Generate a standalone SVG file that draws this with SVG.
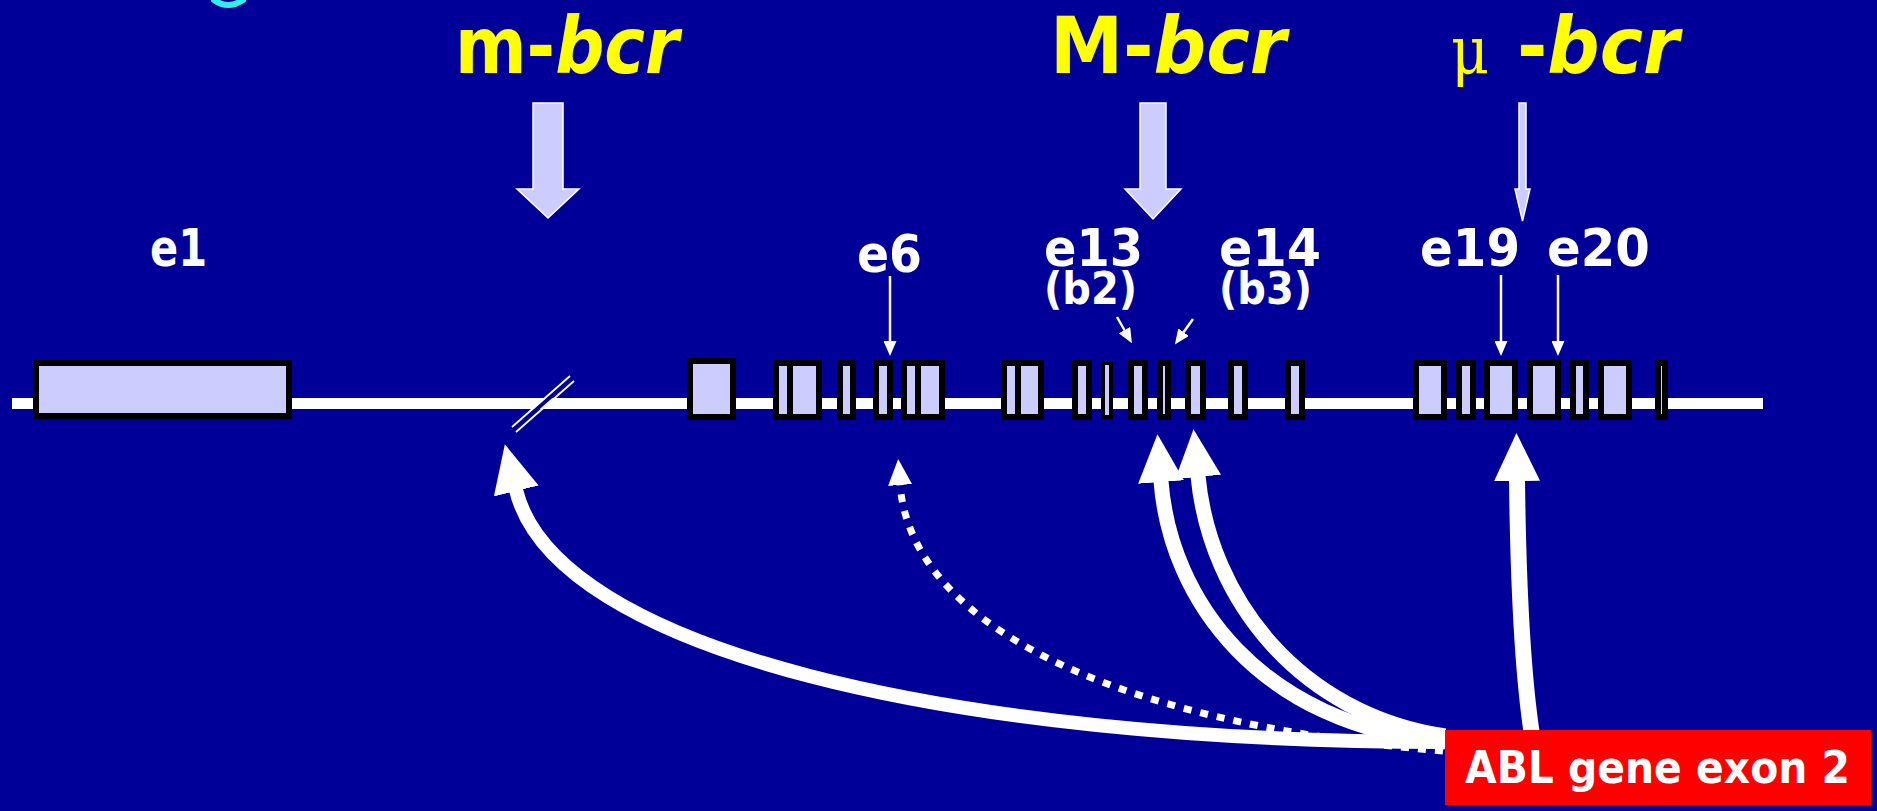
<svg xmlns="http://www.w3.org/2000/svg" width="1877" height="811" viewBox="0 0 1877 811">
  <style>
    .exon { fill: #CCCCFF; stroke: #000000; stroke-width: 6; }
    .exon-thin { fill: #CCCCFF; stroke: #000000; stroke-width: 4; }
    .region { font-family: "DejaVu Sans", sans-serif; font-weight: bold; fill: #FFFF00; }
    .region-it { font-style: italic; }
    .mu { font-family: "DejaVu Serif", "Liberation Serif", serif; font-weight: normal; fill: #FFFF00; }
    .exlabel { font-family: "DejaVu Sans", sans-serif; font-weight: bold; fill: #FFFFFF; }
    .block { fill: #CCCCFF; stroke: #FFFFFF; stroke-width: 1.5; stroke-linejoin: miter; }
    .fusion { fill: none; stroke: #FFFFFF; stroke-linecap: butt; }
    .pointer { fill: none; stroke: #FFFFFF; stroke-width: 2.5; }
  </style>
  <defs>
    <marker id="headBig" markerUnits="userSpaceOnUse" viewBox="0 0 48 46" markerWidth="48" markerHeight="46" refX="1" refY="23" orient="auto">
      <path d="M0,0 L48,23 L0,46 Z" fill="#FFFFFF"/>
    </marker>
    <marker id="headDot" markerUnits="userSpaceOnUse" viewBox="0 0 26 24" markerWidth="26" markerHeight="24" refX="1" refY="12" orient="auto">
      <path d="M0,0 L26,12 L0,24 Z" fill="#FFFFFF"/>
    </marker>
    <marker id="headThin" markerUnits="userSpaceOnUse" viewBox="0 0 15 13" markerWidth="15" markerHeight="13" refX="1" refY="6.5" orient="auto">
      <path d="M0,0 L15,6.5 L0,13 Z" fill="#FFFFFF"/>
    </marker>
  </defs>

  <!-- background -->
  <rect x="0" y="0" width="1877" height="811" fill="#000099"/>

  <!-- cut-off heading stroke at the top edge -->
  <path d="M214,0 Q228,10 243,0" fill="none" stroke="#33EEEE" stroke-width="6" stroke-linecap="round"/>

  <!-- breakpoint cluster region titles with block arrows -->
  <g id="region-m-bcr">
    <text class="region" x="455" y="73" font-size="78" textLength="224" lengthAdjust="spacingAndGlyphs">m-<tspan class="region-it">bcr</tspan></text>
    <polygon class="block" points="533,103 563,103 563,189 579,189 548,218 517,189 533,189"/>
  </g>
  <g id="region-M-bcr">
    <text class="region" x="1050" y="73" font-size="78" textLength="236" lengthAdjust="spacingAndGlyphs">M-<tspan class="region-it">bcr</tspan></text>
    <polygon class="block" points="1140,103 1166,103 1166,189 1181,189 1153,219 1125,189 1140,189"/>
  </g>
  <g id="region-mu-bcr">
    <text class="mu" x="1451" y="73" font-size="66" textLength="38" lengthAdjust="spacingAndGlyphs">μ</text>
    <text class="region" x="1517" y="73" font-size="78" textLength="162" lengthAdjust="spacingAndGlyphs">-<tspan class="region-it">bcr</tspan></text>
    <polygon class="block" points="1519,103 1526,103 1526,189 1530,189 1522.5,221 1515,189 1519,189"/>
  </g>

  <!-- BCR gene backbone -->
  <g id="backbone">
    <rect x="12" y="398" width="1751" height="11" fill="#FFFFFF"/>
    <!-- break mark -->
    <line x1="514" y1="429" x2="572" y2="378" stroke="#000099" stroke-width="4"/>
    <line x1="512" y1="427" x2="570" y2="376" stroke="#FFFFFF" stroke-width="1.8"/>
    <line x1="516" y1="432" x2="574" y2="381" stroke="#FFFFFF" stroke-width="1.8"/>
  </g>

  <!-- exons -->
  <g id="exon-e1"><rect class="exon" x="36" y="363" width="253" height="53"/>
    <text class="exlabel" x="150" y="266" font-size="52" textLength="57" lengthAdjust="spacingAndGlyphs">e1</text></g>
  <g id="exon-2"><rect class="exon" x="690" y="361" width="43" height="56"/></g>
  <g id="exon-3"><rect class="exon" x="776" y="363" width="14" height="54"/><rect class="exon" x="790" y="363" width="29" height="54"/></g>
  <g id="exon-4"><rect class="exon" x="840" y="363" width="13" height="54"/></g>
  <g id="exon-e6"><rect class="exon" x="876" y="363" width="14" height="54"/>
    <text class="exlabel" x="857" y="272" font-size="52" textLength="65" lengthAdjust="spacingAndGlyphs">e6</text></g>
  <g id="exon-7"><rect class="exon" x="904" y="363" width="14" height="54"/><rect class="exon" x="918" y="363" width="24" height="54"/></g>
  <g id="exon-8"><rect class="exon" x="1004" y="363" width="14" height="54"/><rect class="exon" x="1018" y="363" width="23" height="54"/></g>
  <g id="exon-9"><rect class="exon" x="1075" y="363" width="14" height="54"/></g>
  <g id="exon-10"><rect class="exon-thin" x="1103" y="363" width="8" height="54"/></g>
  <g id="exon-e13"><rect class="exon" x="1131" y="363" width="14" height="54"/>
    <text class="exlabel" x="1044" y="266" font-size="52" textLength="99" lengthAdjust="spacingAndGlyphs">e13</text>
    <text class="exlabel" x="1044" y="304" font-size="44" textLength="93" lengthAdjust="spacingAndGlyphs">(b2)</text></g>
  <g id="exon-12"><rect class="exon" x="1160" y="363" width="8" height="54"/></g>
  <g id="exon-e14"><rect class="exon" x="1188" y="363" width="15" height="54"/>
    <text class="exlabel" x="1219" y="266" font-size="52" textLength="102" lengthAdjust="spacingAndGlyphs">e14</text>
    <text class="exlabel" x="1219" y="304" font-size="44" textLength="93" lengthAdjust="spacingAndGlyphs">(b3)</text></g>
  <g id="exon-15"><rect class="exon" x="1231" y="363" width="14" height="54"/></g>
  <g id="exon-16"><rect class="exon" x="1288" y="363" width="14" height="54"/></g>
  <g id="exon-17"><rect class="exon" x="1416" y="363" width="28" height="54"/></g>
  <g id="exon-18"><rect class="exon" x="1459" y="363" width="14" height="54"/></g>
  <g id="exon-e19"><rect class="exon" x="1487" y="363" width="28" height="54"/>
    <text class="exlabel" x="1420" y="266" font-size="52" textLength="100" lengthAdjust="spacingAndGlyphs">e19</text></g>
  <g id="exon-e20"><rect class="exon" x="1530" y="363" width="28" height="54"/>
    <text class="exlabel" x="1547" y="266" font-size="52" textLength="103" lengthAdjust="spacingAndGlyphs">e20</text></g>
  <g id="exon-21"><rect class="exon" x="1573" y="363" width="13" height="54"/></g>
  <g id="exon-22"><rect class="exon" x="1601" y="363" width="28" height="54"/></g>
  <g id="exon-23"><rect class="exon" x="1658" y="363" width="7" height="54"/></g>

  <!-- connectors -->
  <g id="connectors">
    <!-- label pointers -->
    <line class="pointer" x1="890" y1="276" x2="890" y2="342" marker-end="url(#headThin)"/>
    <line class="pointer" x1="1501" y1="275" x2="1501" y2="342" marker-end="url(#headThin)"/>
    <line class="pointer" x1="1558" y1="275" x2="1558" y2="342" marker-end="url(#headThin)"/>
    <line class="pointer" x1="1117" y1="317" x2="1125" y2="331" marker-end="url(#headThin)"/>
    <line class="pointer" x1="1193" y1="319" x2="1183" y2="333" marker-end="url(#headThin)"/>

    <!-- fusion junctions from ABL exon 2 -->
    <path class="fusion" stroke-width="14" d="M1445,742 C950,742 555,650 516,490" marker-end="url(#headBig)"/>
    <path class="fusion" stroke-width="7" stroke-dasharray="8 9" d="M1443,751 C1100,722 910,620 900,484" marker-end="url(#headDot)"/>
    <path class="fusion" stroke-width="15" d="M1445,742 C1260,725 1170,600 1161,481" marker-end="url(#headBig)"/>
    <path class="fusion" stroke-width="15" d="M1445,736 C1300,714 1210,600 1198,476" marker-end="url(#headBig)"/>
    <path class="fusion" stroke-width="16" d="M1532,735 Q1519,650 1517,480" marker-end="url(#headBig)"/>
  </g>

  <!-- ABL exon 2 -->
  <g id="abl-exon2">
    <rect x="1445" y="730" width="426" height="75" fill="#FF0000"/>
    <text class="exlabel" x="1465" y="783" font-size="45" textLength="385" lengthAdjust="spacingAndGlyphs">ABL gene exon 2</text>
  </g>
</svg>
